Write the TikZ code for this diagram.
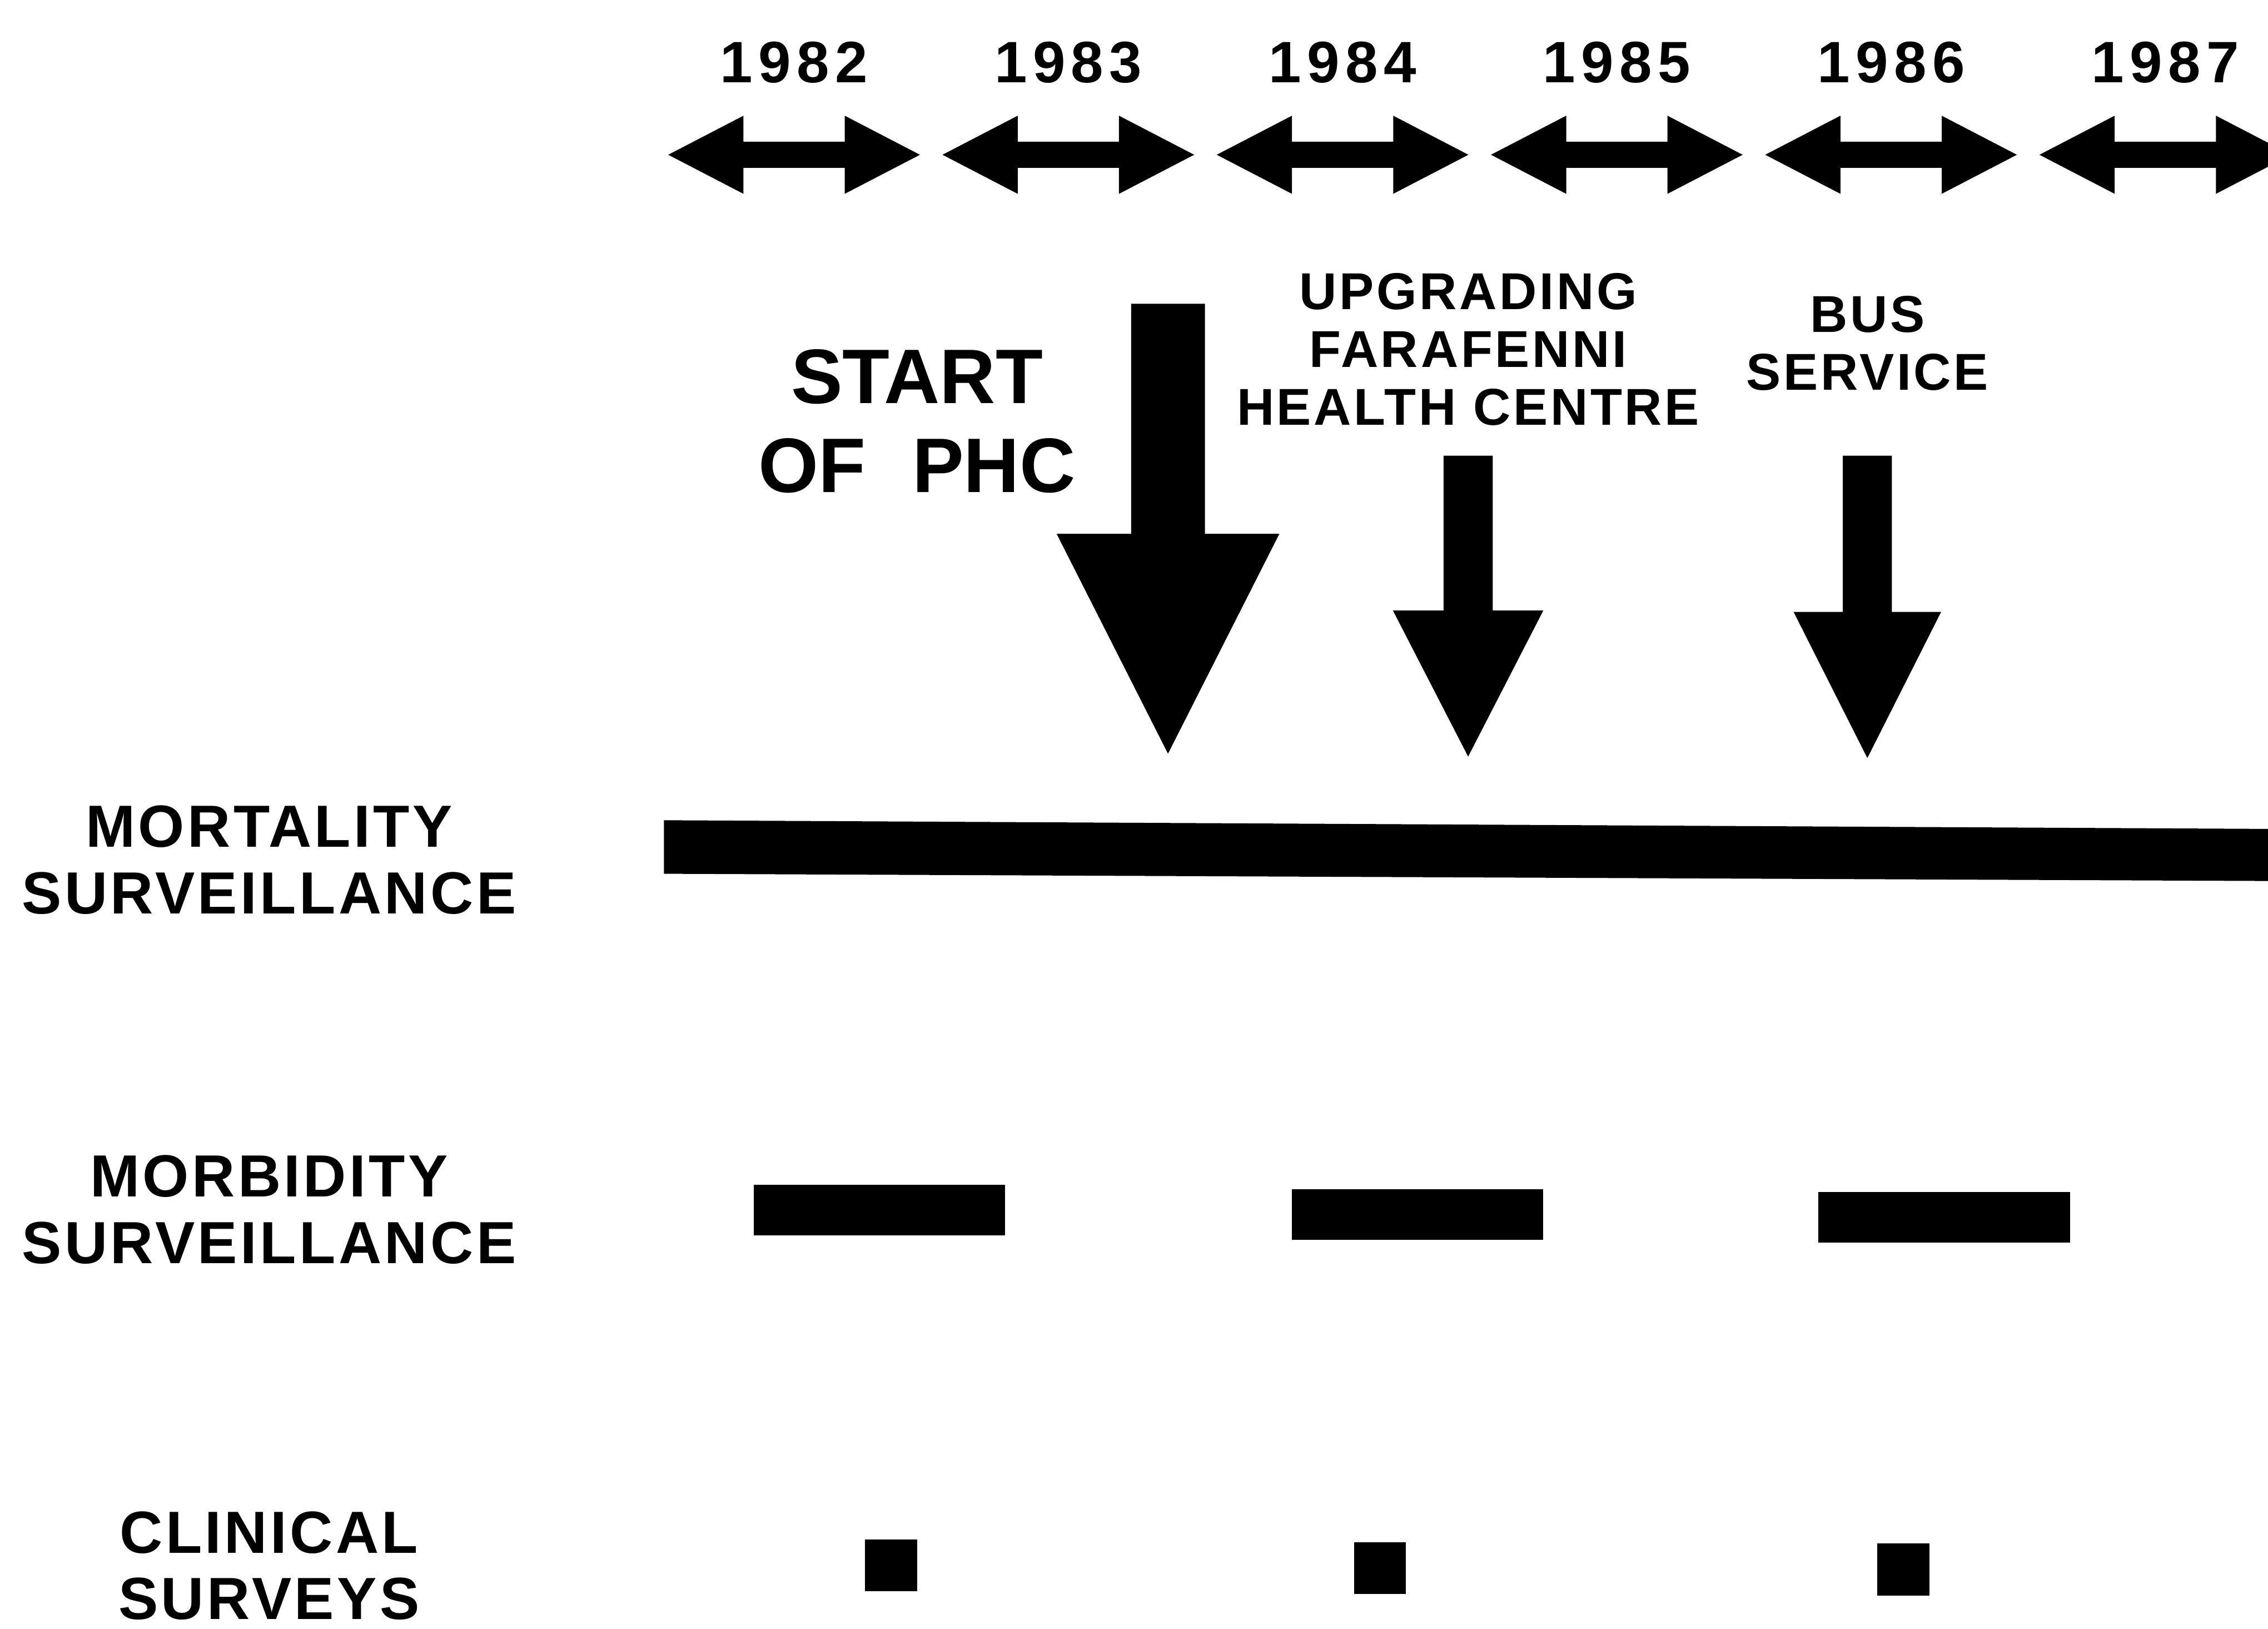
\documentclass[tikz,border=0pt]{standalone}
\usepackage{fontspec}
\setmainfont{Liberation Sans}
\newfontfamily\yearfont[LetterSpace=10]{Liberation Sans}
\newfontfamily\rowfont[LetterSpace=5]{Liberation Sans}
\newfontfamily\eventfont[LetterSpace=5]{Liberation Sans}

\tikzset{
  yearlabel/.style={font={\yearfont\bfseries\fontsize{11.5}{13}\selectfont},inner sep=0pt,anchor=north},
  rowlabel/.style={font={\rowfont\bfseries\fontsize{11.7}{13.1}\selectfont},align=center,inner sep=0pt,anchor=north},
  eventlabel/.style={font={\eventfont\bfseries\fontsize{10.2}{11.4}\selectfont},align=center,inner sep=0pt,anchor=north}
}

\begin{document}
\begin{tikzpicture}[x=0.1mm,y=-0.1mm]
    \useasboundingbox (0,0) rectangle (1568,1126);
    \clip (0,0) rectangle (1568,1126);

    % the years with their double arrows
    \foreach \yr [count=\k from 0] in {1982,...,1987} {
      \pgfmathsetmacro{\cx}{549+189.6*\k}
      \node[yearlabel] (y\yr) at (\cx,28) {\yr};
      \fill (\cx-87,107) -- ++(52,-27) -- ++(0,18) -- ++(70,0) -- ++(0,-18)
        -- ++(52,27) -- ++(-52,27) -- ++(0,-18) -- ++(-70,0) -- ++(0,18) -- cycle;
    }

    % the events and their arrows
    \node[font={\bfseries\fontsize{15.2}{17.4}\selectfont},align=center,inner sep=0pt,anchor=north]
      (phc) at (634,241) {START\\OF\hspace{0.6em}PHC};
    \node[eventlabel] (upgrade) at (1015,188) {UPGRADING\\FARAFENNI\\HEALTH CENTRE};
    \node[eventlabel] (bus) at (1291,204) {BUS\\SERVICE};

    \foreach \ex/\shaft/\head/\ytop/\ybase/\ytip in {
      807.5/25.5/77/210/369/521,
      1015/17/52/315/422/523,
      1291/17/51/315/423/524
    }
    \fill (\ex-\shaft,\ytop) -- (\ex+\shaft,\ytop) -- (\ex+\shaft,\ybase) -- (\ex+\head,\ybase)
      -- (\ex,\ytip) -- (\ex-\head,\ybase) -- (\ex-\shaft,\ybase) -- cycle;

    % the rows on the left
    \node[rowlabel] (mort) at (186,556) {MORTALITY\\SURVEILLANCE};
    \node[rowlabel] (morb) at (186,798) {MORBIDITY\\SURVEILLANCE};
    \node[rowlabel] (clin) at (186,1044) {CLINICAL\\SURVEYS};

    % mortality runs the whole time
    \fill (459,567) -- (1568,573) -- (1568,609) -- (459,604) -- cycle;

    % morbidity rounds
    \foreach \bx/\by in {521/819, 893/822, 1257/824}
      \fill (\bx,\by) rectangle ++(174,35);

    % clinical surveys
    \foreach \sx/\sy in {598/1064, 936/1066, 1298/1067}
      \fill (\sx,\sy) rectangle ++(36,36);
\end{tikzpicture}
\end{document}
